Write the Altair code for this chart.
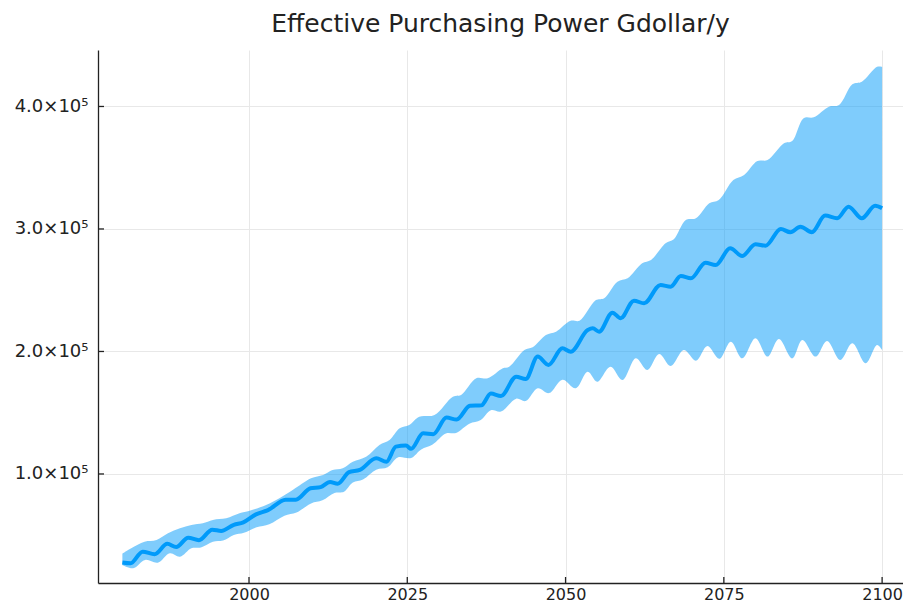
import altair as alt
import pandas as pd

TITLE = "Effective Purchasing Power Gdollar/y"

MEAN_YEAR = [1980.0, 1981.3, 1983.2, 1985.1, 1987.1, 1988.5, 1990.4, 1992.1, 1994.2, 1995.6,
             1997.6, 1999.1, 2001.1, 2003.0, 2005.8, 2007.4, 2009.7, 2011.3, 2012.8, 2014.0,
             2015.8, 2017.5, 2020.1, 2021.7, 2023.2, 2024.8, 2025.6, 2027.5, 2029.1, 2031.2,
             2032.8, 2034.9, 2036.7, 2038.2, 2039.8, 2042.2, 2043.7, 2045.6, 2047.3, 2049.5,
             2050.8, 2053.5, 2054.3, 2055.3, 2057.4, 2058.7, 2060.8, 2062.4, 2065.0, 2066.6,
             2068.2, 2069.8, 2072.1, 2073.7, 2076.0, 2077.9, 2080.0, 2081.6, 2084.0, 2085.5,
             2087.1, 2088.9, 2091.0, 2092.9, 2094.7, 2096.8, 2098.9, 2100.0]
MEAN_VAL = [27800, 27100, 36600, 34500, 43000, 40400, 48000, 46000, 54500, 53500,
            58500, 60500, 67000, 70500, 79000, 79000, 88300, 89300, 93500, 92000,
            101500, 103300, 112800, 110000, 122300, 123200, 120500, 133200, 132500, 146000,
            144400, 155600, 156000, 165600, 163700, 179400, 177500, 195800, 189000, 202600,
            199800, 217500, 218900, 216200, 231700, 227100, 241500, 239300, 254300, 252900,
            261600, 259700, 272500, 270600, 284200, 278000, 287500, 286400, 300000, 297300,
            301900, 297300, 310900, 308700, 318200, 308700, 319000, 316900]

UPPER_YEAR = [1980.0, 1981.4, 1983.5, 1985.4, 1987.2, 1989.1, 1990.9, 1992.7, 1994.3, 1996.4,
              1998.5, 2000.1, 2002.7, 2004.8, 2006.9, 2009.8, 2011.7, 2013.2, 2014.8, 2016.4,
              2018.5, 2020.6, 2022.2, 2023.8, 2025.3, 2026.9, 2029.3, 2032.2, 2033.5, 2035.9,
              2037.7, 2040.1, 2041.1, 2043.5, 2044.8, 2046.9, 2048.5, 2050.8, 2052.2, 2054.8,
              2056.1, 2058.2, 2059.8, 2062.1, 2063.5, 2065.8, 2067.1, 2069.0, 2070.6, 2072.7,
              2074.2, 2076.5, 2078.2, 2080.3, 2081.9, 2084.5, 2085.8, 2087.6, 2089.2, 2091.6,
              2093.2, 2095.3, 2096.8, 2099.2, 2100.0]
UPPER_VAL = [35000, 39400, 44700, 46100, 51600, 55700, 58400, 59800, 62500, 63800,
             67900, 70000, 74700, 80200, 86900, 96500, 99200, 103300, 104700, 110000,
             114100, 123700, 127800, 137300, 140000, 146800, 148200, 163100, 164500, 178100,
             178100, 186300, 187600, 201200, 203400, 213500, 216200, 225100, 225100, 242000,
             243400, 257000, 259700, 272000, 274700, 288300, 291600, 307300, 308700, 321000,
             323700, 340000, 344100, 355500, 356300, 370000, 371800, 390400, 391200, 399800,
             401200, 418100, 420200, 432400, 432400]

LOWER_YEAR = [1980.0, 1981.7, 1983.6, 1985.6, 1987.5, 1989.1, 1990.9, 1992.4, 1994.3, 1995.9,
              1997.6, 1999.2, 2001.2, 2003.2, 2005.6, 2007.5, 2009.8, 2011.6, 2013.5, 2015.0,
              2016.4, 2018.0, 2020.1, 2021.9, 2023.5, 2025.6, 2027.2, 2029.0, 2031.1, 2032.7,
              2034.8, 2036.6, 2038.2, 2039.8, 2042.2, 2043.7, 2045.6, 2047.4, 2049.5, 2051.6,
              2053.5, 2055.0, 2057.1, 2059.0, 2061.1, 2062.9, 2064.8, 2066.6, 2068.7, 2070.6,
              2072.4, 2074.3, 2076.1, 2077.9, 2080.0, 2081.9, 2083.7, 2085.8, 2087.4, 2089.5,
              2091.3, 2093.4, 2095.3, 2097.4, 2099.2, 2100.0]
LOWER_VAL = [25700, 23000, 29800, 27600, 35300, 32500, 39400, 40000, 44700, 45600,
             50200, 52000, 56500, 59000, 66000, 68500, 76000, 78500, 84500, 85500,
             93000, 95500, 103500, 105500, 113500, 113000, 120000, 124000, 133000, 133500,
             141000, 144000, 152000, 151000, 161500, 159500, 170000, 166000, 177000, 170000,
             183500, 175300, 187600, 176700, 194400, 184900, 198000, 188200, 201200, 192500,
             204500, 194000, 208000, 194400, 210800, 195800, 210200, 194400, 209400, 195800,
             208600, 193100, 206700, 190400, 205300, 201200]

X_TICKS = [2000, 2025, 2050, 2075, 2100]
Y_TICKS = [100000, 200000, 300000, 400000]

X_DOMAIN = [1976.15, 2103.3]
Y_DOMAIN = [11000, 446100]

W, H = 805, 533
BLUE = "#009AFA"
FONT = "DejaVu Sans"
INK = "#222222"

# band polygon: upper edge left->right, then lower edge right->left
# (end points repeated so the curve keeps sharp corners at the ends)
up_y = [UPPER_YEAR[0]] + UPPER_YEAR + [UPPER_YEAR[-1]]
up_v = [UPPER_VAL[0]] + UPPER_VAL + [UPPER_VAL[-1]]
lo_y = [LOWER_YEAR[0]] + LOWER_YEAR + [LOWER_YEAR[-1]]
lo_v = [LOWER_VAL[0]] + LOWER_VAL + [LOWER_VAL[-1]]
band_rows = []
for i, (yr, v) in enumerate(zip(up_y, up_v)):
    band_rows.append({"year": yr, "value": v, "k": i})
n = len(band_rows)
for j, (yr, v) in enumerate(zip(lo_y[::-1], lo_v[::-1])):
    band_rows.append({"year": yr, "value": v, "k": n + j})
band = pd.DataFrame(band_rows)
mean = pd.DataFrame({"year": MEAN_YEAR, "value": MEAN_VAL})
xt = pd.DataFrame({"t": X_TICKS})
yt = pd.DataFrame({"t": Y_TICKS})

xs = alt.Scale(domain=X_DOMAIN, nice=False, zero=False)
ys = alt.Scale(domain=Y_DOMAIN, nice=False, zero=False)

x_axis = alt.Axis(values=X_TICKS, format="d", grid=True, gridColor="#e8e8e8", gridWidth=1,
                  domainColor=INK, domainWidth=1.3, ticks=False, tickSize=0,
                  labelFontSize=16, labelFont=FONT, labelColor=INK, labelPadding=3,
                  title=None)
y_axis = alt.Axis(values=Y_TICKS, labelExpr="format(datum.value / 100000, '.1f') + '×10⁵'",
                  grid=True, gridColor="#e8e8e8", gridWidth=1,
                  domainColor=INK, domainWidth=1.3, ticks=False, tickSize=0,
                  labelFontSize=18, labelFont=FONT, labelColor=INK, labelPadding=10,
                  title=None)

band_layer = alt.Chart(band).mark_line(
    interpolate="catmull-rom", fill=BLUE, fillOpacity=0.5, strokeOpacity=0, strokeWidth=0
).encode(
    x=alt.X("year:Q", scale=xs, axis=x_axis),
    y=alt.Y("value:Q", scale=ys, axis=y_axis),
    order=alt.Order("k:Q"),
)

mean_layer = alt.Chart(mean).mark_line(
    color=BLUE, strokeWidth=4, interpolate="monotone"
).encode(
    x=alt.X("year:Q", scale=xs, axis=x_axis),
    y=alt.Y("value:Q", scale=ys, axis=y_axis),
)

ytick_layer = alt.Chart(yt).mark_rule(color=INK, strokeWidth=1.3).encode(
    y=alt.Y("t:Q", scale=ys, axis=y_axis),
    x=alt.value(0),
    x2=alt.value(6),
)
xtick_layer = alt.Chart(xt).mark_rule(color=INK, strokeWidth=1.3).encode(
    x=alt.X("t:Q", scale=xs, axis=x_axis),
    y=alt.value(H),
    y2=alt.value(H - 6),
)

chart = alt.layer(band_layer, mean_layer, ytick_layer, xtick_layer).properties(
    width=W,
    height=H,
    title=alt.Title(TITLE, fontSize=25, font=FONT, fontWeight="normal", color=INK,
                    anchor="middle", offset=13),
    autosize=alt.AutoSizeParams(type="none"),
    padding={"left": 90, "top": 42, "right": 0, "bottom": 22},
).configure_view(stroke=None)

chart.save("out.html", embed_options={"renderer": "svg", "actions": False})
